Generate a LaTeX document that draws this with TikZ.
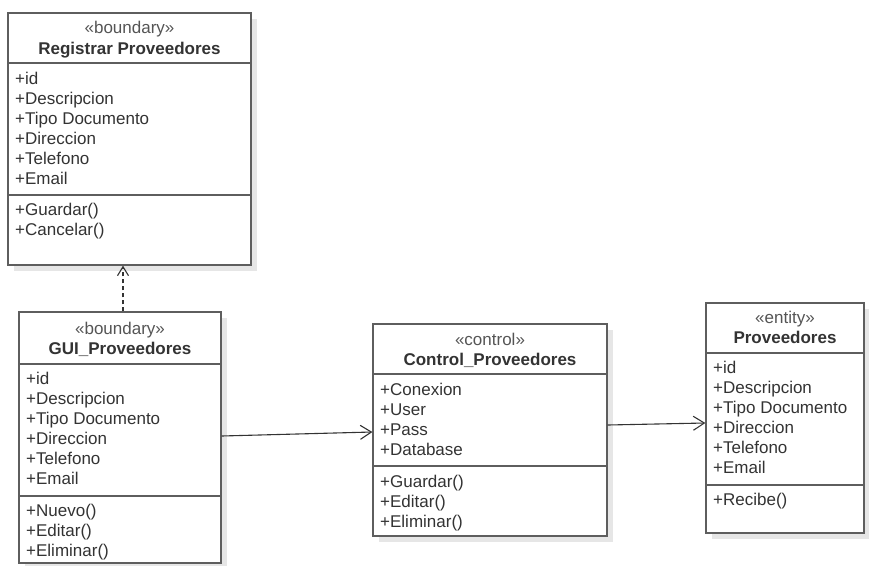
\documentclass[tikz,border=0pt]{standalone}
\usepackage{fontspec}
\setmainfont{Liberation Sans}
\usetikzlibrary{arrows.meta,shadows}
\definecolor{linec}{HTML}{5E5E5E}
\definecolor{txtc}{HTML}{333333}
\definecolor{stc}{HTML}{555555}
\definecolor{shc}{HTML}{E6E6E6}
\tikzset{
  classbox/.style={draw=linec, line width=1.3pt, fill=white, rectangle, inner sep=0pt,
    drop shadow={shadow xshift=6pt, shadow yshift=-6pt, fill=shc, opacity=1}},
  divider/.style={draw=linec, line width=1.3pt},
  attr/.style={anchor=base west, inner sep=0pt, text=txtc, font=\fontsize{17}{20}\selectfont},
  stereo/.style={anchor=base, inner sep=0pt, text=stc, font=\fontsize{17}{20}\selectfont},
  cname/.style={anchor=base, inner sep=0pt, text=txtc, font=\fontsize{17}{20}\selectfont\bfseries},
  assoc/.style={draw=txtc, line width=1.1pt, -{Straight Barb[length=11pt,width=14pt,line width=1.1pt]}},
  dep/.style={draw=txtc, line width=1.1pt, dash pattern=on 4pt off 3pt, -{Straight Barb[length=9pt,width=11pt,line width=1.1pt]}}
}
\begin{document}
\begin{tikzpicture}[x=1pt,y=-1pt]
\useasboundingbox (0,0) rectangle (869,565);
% ---- Registrar Proveedores
\node[classbox, minimum width=243pt, minimum height=252pt] (reg) at (129.5,139) {};
\draw[divider] (8,63) -- (251,63);
\draw[divider] (8,195) -- (251,195);
\node[stereo] (reg-st) at (129.5,33) {«boundary»};
\node[cname] (reg-n) at (129.5,54) {Registrar Proveedores};
\node[attr] (reg-a1) at (15,84) {+id};
\node[attr] (reg-a2) at (15,104) {+Descripcion};
\node[attr] (reg-a3) at (15,124) {+Tipo Documento};
\node[attr] (reg-a4) at (15,144) {+Direccion};
\node[attr] (reg-a5) at (15,164) {+Telefono};
\node[attr] (reg-a6) at (15,184) {+Email};
\node[attr] (reg-o1) at (15,215) {+Guardar()};
\node[attr] (reg-o2) at (15,235) {+Cancelar()};
% ---- GUI_Proveedores
\node[classbox, minimum width=202pt, minimum height=251pt] (gui) at (120,437.5) {};
\draw[divider] (19,364) -- (221,364);
\draw[divider] (19,496) -- (221,496);
\node[stereo] (gui-st) at (120,334) {«boundary»};
\node[cname] (gui-n) at (120,354) {GUI\_Proveedores};
\node[attr] (gui-a1) at (26,384) {+id};
\node[attr] (gui-a2) at (26,404) {+Descripcion};
\node[attr] (gui-a3) at (26,424) {+Tipo Documento};
\node[attr] (gui-a4) at (26,444) {+Direccion};
\node[attr] (gui-a5) at (26,464) {+Telefono};
\node[attr] (gui-a6) at (26,484) {+Email};
\node[attr] (gui-o1) at (26,516) {+Nuevo()};
\node[attr] (gui-o2) at (26,536) {+Editar()};
\node[attr] (gui-o3) at (26,556) {+Eliminar()};
% ---- Control_Proveedores
\node[classbox, minimum width=234pt, minimum height=212pt] (ctrl) at (490,430) {};
\draw[divider] (373,374) -- (607,374);
\draw[divider] (373,466) -- (607,466);
\node[stereo] (ctrl-st) at (490,345) {«control»};
\node[cname] (ctrl-n) at (490,365) {Control\_Proveedores};
\node[attr] (ctrl-a1) at (380,395) {+Conexion};
\node[attr] (ctrl-a2) at (380,415) {+User};
\node[attr] (ctrl-a3) at (380,435) {+Pass};
\node[attr] (ctrl-a4) at (380,455) {+Database};
\node[attr] (ctrl-o1) at (380,487) {+Guardar()};
\node[attr] (ctrl-o2) at (380,507) {+Editar()};
\node[attr] (ctrl-o3) at (380,527) {+Eliminar()};
% ---- Proveedores
\node[classbox, minimum width=158pt, minimum height=230pt] (prov) at (785,418) {};
\draw[divider] (706,353) -- (864,353);
\draw[divider] (706,485) -- (864,485);
\node[stereo] (prov-st) at (785,323) {«entity»};
\node[cname] (prov-n) at (785,343) {Proveedores};
\node[attr] (prov-a1) at (713,373) {+id};
\node[attr] (prov-a2) at (713,393) {+Descripcion};
\node[attr] (prov-a3) at (713,413) {+Tipo Documento};
\node[attr] (prov-a4) at (713,433) {+Direccion};
\node[attr] (prov-a5) at (713,453) {+Telefono};
\node[attr] (prov-a6) at (713,473) {+Email};
\node[attr] (prov-o1) at (713,505) {+Recibe()};
% ---- connectors
\draw[dep] ([xshift=3pt]gui.north) -- ([xshift=3pt]gui.north |- reg.south);
\draw[assoc] ([yshift=1.5pt]gui.east) -- ([yshift=-2pt]ctrl.west);
\draw[assoc] ([yshift=5pt]ctrl.east) -- ([yshift=-5pt]prov.west);
\end{tikzpicture}
\end{document}
